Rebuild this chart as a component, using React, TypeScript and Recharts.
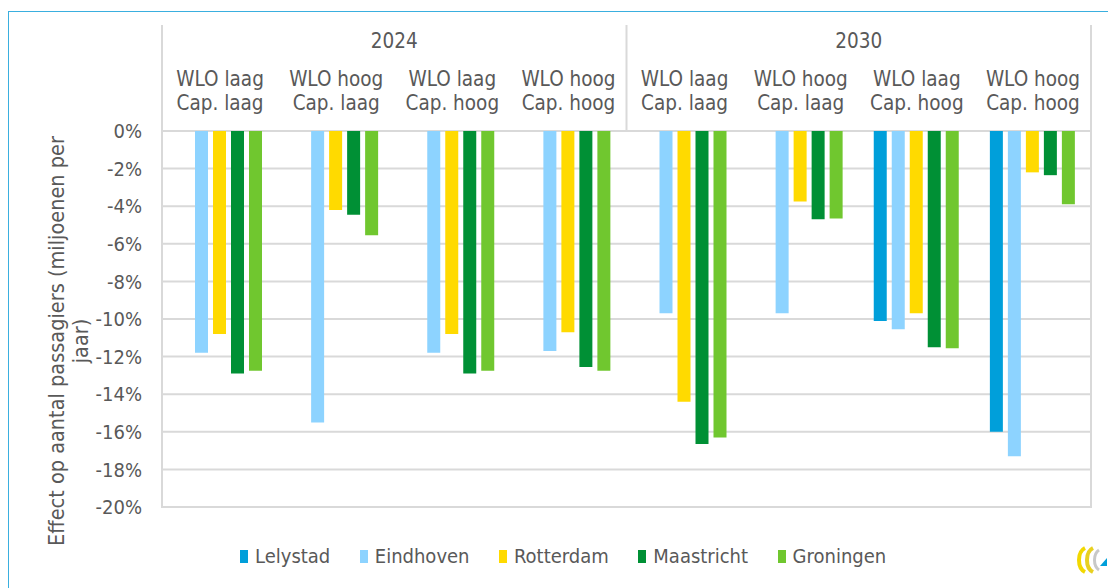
import React from "react";
import { BarChart, Bar, XAxis, YAxis, CartesianGrid, Legend } from "recharts";

const years = ["2024", "2024", "2024", "2024", "2030", "2030", "2030", "2030"];
const wloLabels = ["WLO laag", "WLO hoog", "WLO laag", "WLO hoog", "WLO laag", "WLO hoog", "WLO laag", "WLO hoog"];
const capLabels = ["Cap. laag", "Cap. laag", "Cap. hoog", "Cap. hoog", "Cap. laag", "Cap. laag", "Cap. hoog", "Cap. hoog"];

const lelystad = [null, null, null, null, null, null, -10.1, -16.0];
const eindhoven = [-11.8, -15.5, -11.8, -11.7, -9.7, -9.7, -10.55, -17.3];
const rotterdam = [-10.8, -4.2, -10.8, -10.7, -14.4, -3.75, -9.7, -2.2];
const maastricht = [-12.9, -4.45, -12.9, -12.55, -16.65, -4.7, -11.5, -2.35];
const groningen = [-12.75, -5.55, -12.75, -12.75, -16.3, -4.65, -11.55, -3.9];

const yTicks = [0, -2, -4, -6, -8, -10, -12, -14, -16, -18, -20];

const seriesNames = ["Lelystad", "Eindhoven", "Rotterdam", "Maastricht", "Groningen"];
const seriesColors = ["#009FDA", "#8DD3FF", "#FFDA00", "#009035", "#70C72F"];

const data = years.map((y, i) => ({
  key: String(i),
  year: y,
  Lelystad: lelystad[i],
  Eindhoven: eindhoven[i],
  Rotterdam: rotterdam[i],
  Maastricht: maastricht[i],
  Groningen: groningen[i],
}));

const W = 1108;
const H = 588;
const MARGIN = { top: 25, right: 17, left: 40, bottom: 51 };
const YAXIS_W = 122;
const YEAR_H = 38;
const CAT_H = 68;
const PLOT_LEFT = MARGIN.left + YAXIS_W;
const PLOT_RIGHT = W - MARGIN.right;
const PLOT_TOP = MARGIN.top + YEAR_H + CAT_H;
const PLOT_BOTTOM = 507;

const FONT = "'DejaVu Sans Condensed', 'DejaVu Sans', sans-serif";
const TEXT = "#595959";
const GRID = "#D9D9D9";

const CatTick = (props: any) => {
  const { x, y, payload } = props;
  const i = Number(payload.value);
  return (
    <g>
      <text x={x} y={y - 45} textAnchor="middle" fill={TEXT} fontSize={20.5} fontFamily={FONT}>
        {wloLabels[i]}
      </text>
      <text x={x} y={y - 21} textAnchor="middle" fill={TEXT} fontSize={20.5} fontFamily={FONT}>
        {capLabels[i]}
      </text>
    </g>
  );
};

const YearTick = (props: any) => {
  const { x, y, payload } = props;
  return (
    <text x={x} y={y - 15} textAnchor="middle" fill={TEXT} fontSize={20.5} fontFamily={FONT}>
      {payload.value}
    </text>
  );
};

const YLabel = () => {
  const cy = 341;
  return (
    <g>
      <text x={56} y={cy} transform={`rotate(-90 56 ${cy})`} textAnchor="middle" dominantBaseline="central" fill={TEXT} fontSize={21.5} fontFamily={FONT}>
        Effect op aantal passagiers (miljoenen per
      </text>
      <text x={80} y={cy} transform={`rotate(-90 80 ${cy})`} textAnchor="middle" dominantBaseline="central" fill={TEXT} fontSize={21.5} fontFamily={FONT}>
        jaar)
      </text>
    </g>
  );
};

const LegendContent = () => (
  <div style={{ display: "flex", alignItems: "center", fontFamily: FONT, fontSize: 20, color: TEXT, lineHeight: "30px", whiteSpace: "nowrap" }}>
    {seriesNames.map((n, i) => (
      <div key={n} style={{ display: "flex", alignItems: "center", marginRight: 29.5 }}>
        <span style={{ display: "inline-block", width: 8, height: 13, background: seriesColors[i], marginRight: 7 }} />
        <span>{n}</span>
      </div>
    ))}
  </div>
);

export default function App() {
  return (
    <div style={{ position: "absolute", left: 0, top: 0, width: W, height: H, overflow: "hidden", background: "#fff" }}>
      <div style={{ position: "absolute", left: 8, top: 11, width: 1200, height: 700, border: "1.5px solid #3AAFDF", boxSizing: "border-box" }} />
      <div style={{ position: "absolute", left: 0, top: 0 }}>
        <BarChart width={W} height={H} data={data} margin={MARGIN} barCategoryGap={15} barGap={5}>
          <CartesianGrid xAxisId="cat" vertical={false} stroke={GRID} strokeWidth={2} />
          <XAxis xAxisId="cat" dataKey="key" orientation="top" height={CAT_H} axisLine={false} tickLine={false} tickSize={0} tickMargin={0} tick={<CatTick />} interval={0} />
          <XAxis xAxisId="year" dataKey="year" orientation="top" height={YEAR_H} allowDuplicatedCategory={false} axisLine={false} tickLine={false} tickSize={0} tickMargin={0} tick={<YearTick />} interval={0} />
          <YAxis
            width={YAXIS_W}
            domain={[-20, 0]}
            ticks={yTicks}
            interval={0}
            axisLine={false}
            tickLine={false}
            tickSize={0}
            tickMargin={20}
            tickFormatter={(v: number) => `${v}%`}
            tick={{ fill: TEXT, fontSize: 20, fontFamily: FONT }}
            label={{ content: <YLabel /> }}
          />
          {seriesNames.map((n, i) => (
            <Bar key={n} xAxisId="cat" dataKey={n} fill={seriesColors[i]} isAnimationActive={false} />
          ))}
          <Legend height={30} content={<LegendContent />} wrapperStyle={{ top: 541, left: 240, bottom: "auto", width: 800 }} />
        </BarChart>
      </div>
      <svg style={{ position: "absolute", left: 0, top: 0, pointerEvents: "none" }} width={W} height={H}>
        <line x1={PLOT_LEFT} x2={PLOT_LEFT} y1={MARGIN.top} y2={PLOT_BOTTOM + 1} stroke={GRID} strokeWidth={2} />
        <line x1={PLOT_RIGHT} x2={PLOT_RIGHT} y1={MARGIN.top} y2={PLOT_BOTTOM + 1} stroke={GRID} strokeWidth={2} />
        <line x1={(PLOT_LEFT + PLOT_RIGHT) / 2} x2={(PLOT_LEFT + PLOT_RIGHT) / 2} y1={MARGIN.top} y2={PLOT_TOP} stroke={GRID} strokeWidth={2} />
        <g transform="translate(1075,546)">
          <path d="M10 2 C2 6 2 22 10 26" stroke="#F2D800" strokeWidth={4} fill="none" />
          <path d="M18 2 C10 6 10 22 18 26" stroke="#E8D020" strokeWidth={4} fill="none" />
          <path d="M24 4 C18 8 18 20 24 24" stroke="#C8C8C8" strokeWidth={3} fill="none" />
          <path d="M25 20 L32 12 L32 20 Z" fill="#009FDA" />
        </g>
      </svg>
    </div>
  );
}
